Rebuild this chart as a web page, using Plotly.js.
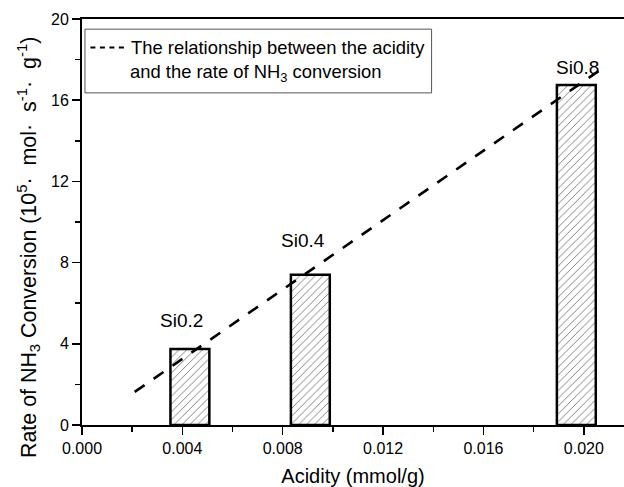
<!DOCTYPE html>
<html>
<head>
<meta charset="utf-8">
<script src="https://cdn.plot.ly/plotly-3.0.1.min.js"></script>
<style>html,body{margin:0;padding:0;background:#fff;overflow:hidden}</style>
</head>
<body>
<div id="chart" style="width:624px;height:487px"></div>
<script>
// Data
var samples = ["Si0.2", "Si0.4", "Si0.8"];
var acidity = [0.0043, 0.0091, 0.0197];        // mmol/g
var rate = [3.75, 7.40, 16.75];                // 10^5 mol s^-1 g^-1
var fitX = [0.0021, 0.02065];                  // dashed relationship line
var fitY = [1.63, 17.49];
var xTicks = [0.000, 0.004, 0.008, 0.012, 0.016, 0.020];
var yTicks = [0, 4, 8, 12, 16, 20];

var FONT = "Liberation Sans, Arial, Helvetica, sans-serif";

var bars = {
  type: "bar",
  x: acidity,
  y: rate,
  width: 0.00155,
  marker: {
    color: "#ffffff",
    line: {color: "#000000", width: 2.5},
    pattern: {shape: "/", fgcolor: "#6a6a6a", bgcolor: "#ffffff", size: 5.5, solidity: 0.15}
  },
  showlegend: false,
  hoverinfo: "x+y"
};

var fit = {
  type: "scatter",
  mode: "lines",
  x: fitX,
  y: fitY,
  line: {color: "#000000", width: 2.6, dash: "12px,11px"},
  showlegend: false
};

// label offsets (px) relative to bar tops
var labelShift = [[-8, 28], [-7, 34], [1, 17]];
var annotations = samples.map(function (s, i) {
  return {
    x: acidity[i], y: rate[i], xref: "x", yref: "y",
    text: s, showarrow: false,
    xanchor: "center", yanchor: "middle",
    xshift: labelShift[i][0], yshift: labelShift[i][1],
    font: {family: FONT, size: 19, color: "#000"}
  };
});

// legend (manual, two lines)
annotations.push({
  xref: "paper", yref: "paper", x: 0.0865, y: 0.931,
  xanchor: "left", yanchor: "middle", showarrow: false,
  text: "The relationship between the acidity",
  font: {family: FONT, size: 18.4, color: "#000"}
});
annotations.push({
  xref: "paper", yref: "paper", x: 0.3207, y: 0.868,
  xanchor: "center", yanchor: "middle", showarrow: false,
  text: "and the rate of NH<sub>3</sub> conversion",
  font: {family: FONT, size: 18.4, color: "#000"}
});

// y-axis title (placed as in the reference, below the plot centre)
annotations.push({
  xref: "paper", yref: "paper", x: -0.1, y: 0.438,
  xanchor: "center", yanchor: "middle", showarrow: false, textangle: -90,
  text: "Rate of NH<sub>3</sub> Conversion (10<sup>5</sup>·&nbsp; mol·&nbsp; s<sup>-1</sup>·&nbsp; g<sup>-1</sup>)",
  font: {family: FONT, size: 21.4, color: "#000"}
});

var shapes = [
  {type: "rect", xref: "paper", yref: "paper", x0: 0.0055, x1: 0.645, y0: 0.818, y1: 0.975,
   line: {color: "#555", width: 1}, fillcolor: "rgba(255,255,255,0)", layer: "above"},
  {type: "line", xref: "paper", yref: "paper", x0: 0.0155, x1: 0.0835, y0: 0.93, y1: 0.93,
   line: {color: "#000", width: 2, dash: "5px,4.5px"}}
];

var layout = {
  width: 624, height: 487,
  margin: {l: 82, r: 0, t: 19, b: 62, pad: 0},
  paper_bgcolor: "#ffffff", plot_bgcolor: "#ffffff",
  font: {family: FONT, size: 16, color: "#000"},
  bargap: 0,
  xaxis: {
    range: [0, 0.0216], tickvals: xTicks, tickformat: ".3f",
    ticks: "outside", ticklen: 8, tickwidth: 1.5, tickcolor: "#000",
    minor: {dtick: 0.002, tick0: 0, ticks: "outside", ticklen: 5, tickwidth: 1.5, tickcolor: "#000"},
    showline: true, linecolor: "#000", linewidth: 2, mirror: true,
    showgrid: false, zeroline: false,
    tickfont: {family: FONT, size: 16, color: "#000"},
    title: {text: "Acidity (mmol/g)", font: {family: FONT, size: 20, color: "#000"}, standoff: 14}
  },
  yaxis: {
    range: [0, 20], tickvals: yTicks,
    ticks: "outside", ticklen: 8, tickwidth: 1.5, tickcolor: "#000",
    minor: {dtick: 2, tick0: 0, ticks: "outside", ticklen: 5, tickwidth: 1.5, tickcolor: "#000"},
    showline: true, linecolor: "#000", linewidth: 2,
    showgrid: false, zeroline: false,
    tickfont: {family: FONT, size: 16, color: "#000"}
  },
  annotations: annotations,
  shapes: shapes
};

Plotly.newPlot("chart", [bars, fit], layout, {displayModeBar: false, staticPlot: true});
</script>
</body>
</html>
